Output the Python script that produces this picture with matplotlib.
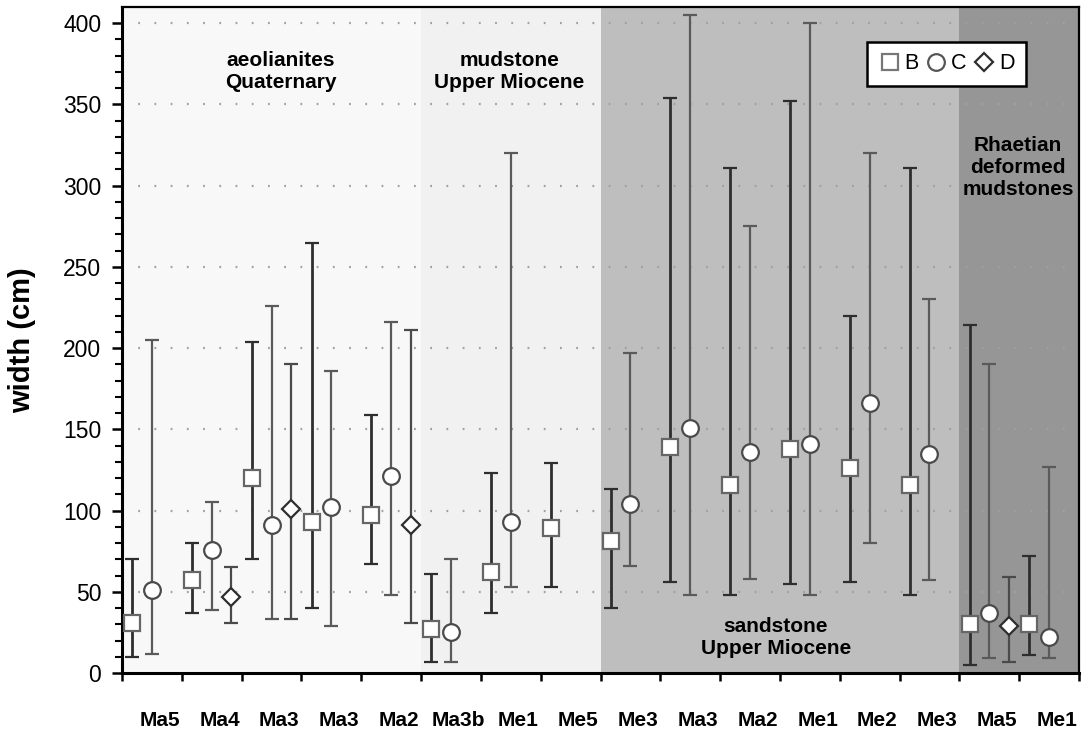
import numpy as np
import matplotlib
matplotlib.use('Agg')
import matplotlib.pyplot as plt
from matplotlib.lines import Line2D

plt.rcParams['font.family'] = ['Liberation Sans', 'DejaVu Sans']

# site labels along x (one slot per site)
sites = ['Ma5', 'Ma4', 'Ma3', 'Ma3', 'Ma2', 'Ma3b', 'Me1', 'Me5',
         'Me3', 'Ma3', 'Ma2', 'Me1', 'Me2', 'Me3', 'Ma5', 'Me1']

# B: mean, min, max (cm)
b_mean = [31, 57, 120, 93, 97, 27, 62, 89, 81, 139, 116, 138, 126, 116, 30, 30]
b_min = [10, 37, 70, 40, 67, 7, 37, 53, 40, 56, 48, 55, 56, 48, 5, 11]
b_max = [70, 80, 204, 265, 159, 61, 123, 129, 113, 354, 311, 352, 220, 311, 214, 72]

# C: mean, min, max (cm); nan where absent
nan = np.nan
c_mean = [51, 76, 91, 102, 121, 25, 93, nan, 104, 151, 136, 141, 166, 135, 37, 22]
c_min = [12, 39, 33, 29, 48, 7, 53, nan, 66, 48, 58, 48, 80, 57, 9, 9]
c_max = [205, 105, 226, 186, 216, 70, 320, nan, 197, 405, 275, 400, 320, 230, 190, 127]

# D: mean, min, max (cm)
d_mean = [nan, 47, 101, nan, 91, nan, nan, nan, nan, nan, nan, nan, nan, nan, 29, nan]
d_min = [nan, 31, 33, nan, 31, nan, nan, nan, nan, nan, nan, nan, nan, nan, 7, nan]
d_max = [nan, 65, 190, nan, 211, nan, nan, nan, nan, nan, nan, nan, nan, nan, 59, nan]

# lithology zones: (start slot, end slot, colour)
zones = [(0, 5, '#f8f8f8'), (5, 8, '#f1f1f1'), (8, 14, '#bebebe'), (14, 16, '#969696')]

fig = plt.figure(figsize=(10.85, 7.34), dpi=100)
ax = fig.add_axes([122 / 1085, 1 - 673 / 734, 957 / 1085, 666 / 734])

for x0, x1, col in zones:
    ax.axvspan(x0, x1, color=col, zorder=0, lw=0)

ax.set_xlim(0, 16)
ax.set_ylim(0, 410)
ax.set_yticks(np.arange(0, 401, 50))
ax.set_yticks(np.arange(0, 410, 10), minor=True)
for y in np.arange(50, 401, 50):
    ax.axhline(y, color='#a0a0a0', lw=1.6, ls=(0, (0.8, 6.5)), zorder=1)

slots = np.arange(len(sites))


def draw(offset, mean, lo, hi, marker, ms, ecol, lw, mec):
    mean = np.array(mean, float)
    lo = np.array(lo, float)
    hi = np.array(hi, float)
    ok = ~np.isnan(mean)
    ax.errorbar(slots[ok] + offset, mean[ok],
                yerr=[mean[ok] - lo[ok], hi[ok] - mean[ok]],
                fmt=marker, ms=ms, mfc='white', mec=mec, mew=1.6,
                ecolor=ecol, elinewidth=lw, capsize=4.8, capthick=lw,
                zorder=3)


draw(0.17, b_mean, b_min, b_max, 's', 12, '#2e2e2e', 2.0, '#666666')
draw(0.5, c_mean, c_min, c_max, 'o', 12, '#5a5a5a', 1.6, '#4a4a4a')
draw(0.83, d_mean, d_min, d_max, 'D', 9, '#4a4a4a', 1.6, '#2e2e2e')

# zone labels
tkw = dict(ha='center', va='center', fontsize=15, fontweight='bold',
           linespacing=1.2, zorder=4)
ax.text(2.65, 370, 'aeolianites\nQuaternary', **tkw)
ax.text(6.48, 370, 'mudstone\nUpper Miocene', **tkw)
ax.text(10.93, 22, 'sandstone\nUpper Miocene', **tkw)
ax.text(14.98, 311, 'Rhaetian\ndeformed\nmudstones', **tkw)

# x axis: ticks on slot boundaries, names under slots
ax.set_xticks(np.arange(17))
ax.set_xticklabels([''] * 17)
ax.set_xticks(slots + 0.63, minor=True)
ax.set_xticklabels(sites, minor=True, fontsize=15, fontweight='bold')
ax.tick_params(axis='x', which='major', direction='out', length=6, width=1.8)
ax.tick_params(axis='x', which='minor', length=0, pad=27)
ax.tick_params(axis='y', which='major', direction='out', length=7, width=1.8,
               labelsize=16.5, pad=8)
ax.tick_params(axis='y', which='minor', direction='out', length=5, width=1.5)

for s in ax.spines.values():
    s.set_linewidth(1.6)
ax.spines['left'].set_linewidth(2.2)
ax.spines['bottom'].set_linewidth(2.2)

fig.text(22 / 1085, 1 - 340 / 734, 'width (cm)', rotation=90, ha='center',
         va='center', fontsize=21, fontweight='bold')

handles = [
    Line2D([], [], ls='none', marker='s', ms=12, mfc='white', mec='#777777', mew=1.6),
    Line2D([], [], ls='none', marker='o', ms=12, mfc='white', mec='#555555', mew=1.6),
    Line2D([], [], ls='none', marker='D', ms=9, mfc='white', mec='#2e2e2e', mew=1.6),
]
leg = ax.legend(handles, ['B', 'C', 'D'], ncol=3, loc='upper right',
                bbox_to_anchor=(0.945, 0.948), fontsize=15.5, frameon=True,
                fancybox=False, framealpha=1, edgecolor='black',
                handletextpad=0.2, columnspacing=0.3, handlelength=1.0,
                borderpad=0.55, borderaxespad=0)
leg.get_frame().set_linewidth(1.8)
leg.set_zorder(5)

fig.savefig('out.png', dpi=100)
